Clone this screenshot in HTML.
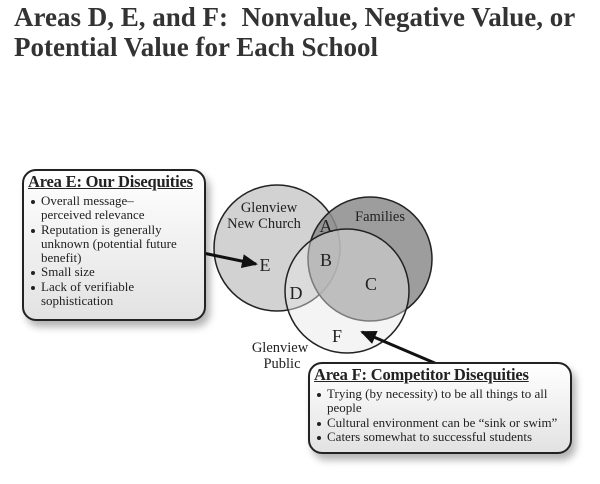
<!DOCTYPE html>
<html><head><style>
body{margin:0;background:#fff;width:600px;height:484px;position:relative;overflow:hidden;font-family:"Liberation Serif",serif;color:#222}
.t{position:absolute;left:14px;top:2px;font-size:27px;font-weight:bold;line-height:30px;color:#333;white-space:nowrap}
.box{position:absolute;border:2px solid #222;border-radius:14px;background:linear-gradient(#fff,#e2e2e2);box-shadow:4px 6px 8px rgba(0,0,0,.3);font-size:13px;line-height:14.3px}
.box h4{margin:0 0 2px;font-size:16.5px;text-decoration:underline;font-weight:bold;line-height:20px;white-space:nowrap;letter-spacing:-0.2px}
.box ul{margin:0;padding-left:13px}
.box li{list-style:none;position:relative}
.box li:before{content:"";position:absolute;left:-10px;top:6px;width:4px;height:4px;border-radius:2px;background:#222}
</style></head><body>
<div class="t">Areas D, E, and F:&nbsp; Nonvalue, Negative Value, or<br>Potential Value for Each School</div>
<svg width="600" height="484" style="position:absolute;left:0;top:0">
<defs><marker id="a" markerWidth="16" markerHeight="14" refX="14" refY="7" orient="auto" markerUnits="userSpaceOnUse"><path d="M0,0 L16,7 L0,14 Z" fill="#111"/></marker></defs>
<circle cx="277" cy="248" r="63" fill="#d2d2d2" stroke="#222" stroke-width="1.5"/>
<circle cx="370" cy="259" r="62" fill="#8c8c8c" fill-opacity=".85" stroke="#222" stroke-width="1.5"/>
<circle cx="347" cy="291" r="62" fill="#e6e6e6" fill-opacity=".45" stroke="#222" stroke-width="1.5"/>
<g font-family="Liberation Serif,serif" fill="#222">
<text x="269" y="212" font-size="14.5" text-anchor="middle">Glenview</text>
<text x="264" y="228" font-size="14.5" text-anchor="middle">New Church</text>
<text x="380" y="221" font-size="14.5" text-anchor="middle">Families</text>
<text x="280" y="352" font-size="14.5" text-anchor="middle">Glenview</text>
<text x="282" y="368" font-size="14.5" text-anchor="middle">Public</text>
<text x="326" y="232" font-size="18" text-anchor="middle">A</text>
<text x="326" y="266" font-size="18" text-anchor="middle">B</text>
<text x="371" y="290" font-size="18" text-anchor="middle">C</text>
<text x="296" y="299" font-size="18" text-anchor="middle">D</text>
<text x="265" y="271" font-size="18" text-anchor="middle">E</text>
<text x="337" y="342" font-size="18" text-anchor="middle">F</text>
</g>
<line x1="203" y1="253" x2="256" y2="264" stroke="#111" stroke-width="3" marker-end="url(#a)"/>
<line x1="437" y1="364" x2="362" y2="332" stroke="#111" stroke-width="3" marker-end="url(#a)"/>
</svg>
<div class="box" style="left:22px;top:169px;width:172px;height:146px;padding:1px 4px">
<h4>Area E: Our Disequities</h4>
<ul><li>Overall message–<br>perceived relevance</li><li>Reputation is generally unknown (potential future benefit)</li><li>Small size</li><li>Lack of verifiable sophistication</li></ul></div>
<div class="box" style="left:308px;top:362px;width:252px;height:86px;padding:1px 4px">
<h4>Area F: Competitor Disequities</h4>
<ul><li>Trying (by necessity) to be all things to all people</li><li>Cultural environment can be “sink or swim”</li><li>Caters somewhat to successful students</li></ul></div>
</body></html>
